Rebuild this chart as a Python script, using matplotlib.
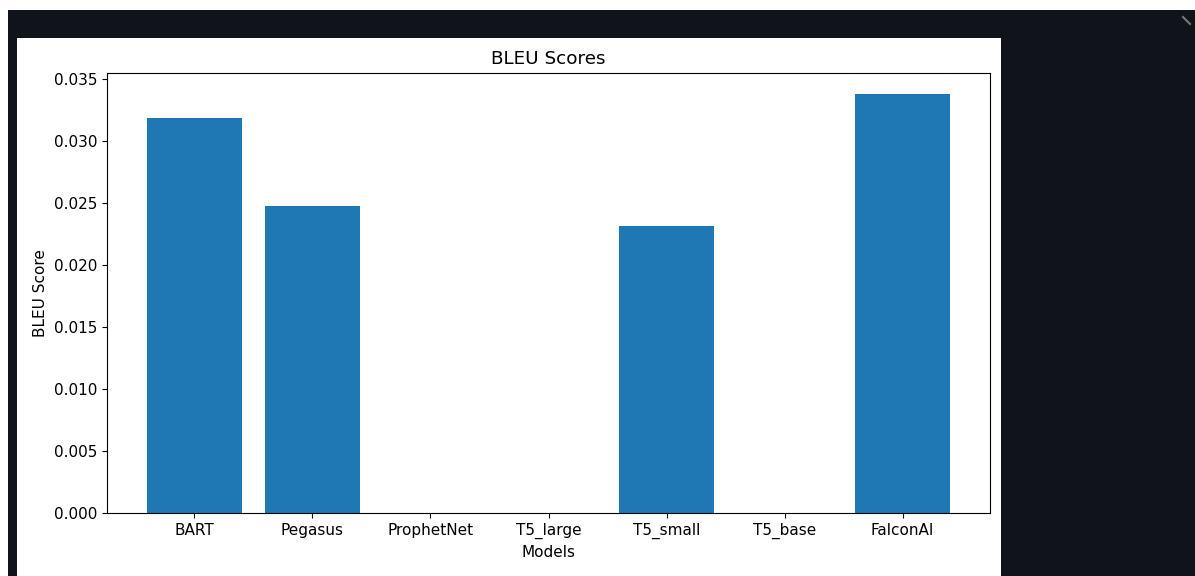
import numpy as np
import matplotlib
matplotlib.use("Agg")
import matplotlib.pyplot as plt
from matplotlib.patches import Rectangle
from matplotlib.lines import Line2D

models = ["BART", "Pegasus", "ProphetNet", "T5_large", "T5_small", "T5_base", "FalconAI"]
bleu_scores = [0.03185, 0.02472, 0.0, 0.0, 0.02315, 0.0, 0.03379]

W, H = 1195, 576
fig = plt.figure(figsize=(W / 100, H / 100), dpi=100, facecolor="#10131a")

# screenshot framing: white edges and the white figure card
fig.patches.append(Rectangle((0, 1 - 10 / H), 1, 10 / H, transform=fig.transFigure,
                             facecolor="white", edgecolor="none", zorder=-5))
fig.patches.append(Rectangle((0, 0), 8 / W, 1, transform=fig.transFigure,
                             facecolor="white", edgecolor="none", zorder=-5))
fig.patches.append(Rectangle((17 / W, 0), (1001 - 17) / W, (576 - 38) / H,
                             transform=fig.transFigure, facecolor="white",
                             edgecolor="none", zorder=-5))
# small expand icon in the corner
fig.lines.append(Line2D([1183 / W, 1190 / W], [1 - 17 / H, 1 - 24 / H],
                        transform=fig.transFigure, color="#777777", lw=1.5, zorder=-4))

ax = fig.add_axes([107 / W, (576 - 513.3) / H, (990 - 107) / W, (513.3 - 72.7) / H])
ax.bar(models, bleu_scores, color="#1f77b4")

ax.set_title("BLEU Scores", fontsize=13.2)
ax.set_xlabel("Models", fontsize=11)
ax.set_ylabel("BLEU Score", fontsize=11)
ax.tick_params(labelsize=11)

fig.savefig("out.png", dpi=100, facecolor=fig.get_facecolor())
